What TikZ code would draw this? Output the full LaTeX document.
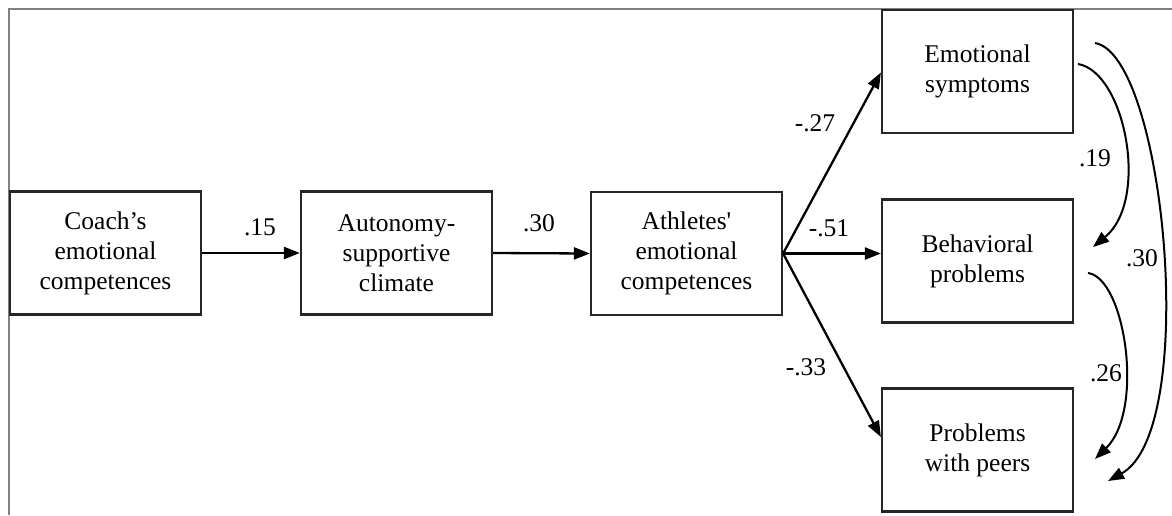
\documentclass[tikz,border=0pt]{standalone}
\usepackage{fontspec}
\setmainfont{Liberation Serif}
\usetikzlibrary{arrows.meta,calc}
\begin{document}
\begin{tikzpicture}[x=1pt,y=-1pt,
  box/.style={draw=black!85,line width=2.2pt,minimum width=191pt,minimum height=123pt,align=center,inner sep=0pt,
    font=\fontsize{25.5}{30}\selectfont},
  lab/.style={font=\fontsize{25.5}{30}\selectfont,inner sep=0pt},
  arr/.style={line width=2.3pt,-{Triangle[length=16pt,width=12pt]}},
  carr/.style={line width=2pt,-{Triangle[length=16pt,width=12pt]}}]
\useasboundingbox (0,0) rectangle (1172,515);
\draw[black!50,line width=1.5pt] (9,515) -- (9,9) -- (1172,9);
\node[box] (coach) at (105.5,253) {Coach’s\\emotional\\competences};
\node[box] (auto) at (396.5,253) {Autonomy-\\supportive\\climate};
\node[box] (ath) at (686.5,253.5) {Athletes\textquotesingle\\emotional\\competences};
\node[box] (emo) at (977.5,71.5) {Emotional\\symptoms};
\node[box] (beh) at (977.5,261) {Behavioral\\problems};
\node[box] (peer) at (977.5,450) {Problems\\with peers};
\draw[arr] (coach.east) -- (auto.west);
\draw[arr] (auto.east) -- (ath.west);
\coordinate (athout) at (ath.east);
\coordinate (emoin) at ($(emo.west)+(0,1)$);
\coordinate (behin) at (beh.west |- ath.east);
\coordinate (peerin) at ($(peer.west)+(0,-13)$);
\draw[arr] (athout) -- (emoin);
\draw[arr] (athout) -- (behin);
\draw[arr] (athout) -- (peerin);
\node[lab] (l15) at (260,227) {.15};
\node[lab] (l30a) at (539,223) {.30};
\node[lab] (l27) at (815,123) {-.27};
\node[lab] (l51) at (829,228) {-.51};
\node[lab] (l33) at (806,367) {-.33};
% correlations
\coordinate (e1) at (1078,64);
\coordinate (b1) at (1093,247);
\draw[carr] (e1) .. controls (1125,72) and (1150,200) .. (b1);
\coordinate (e2) at (1095,43);
\coordinate (p2) at (1108,481);
\draw[carr] (e2) .. controls (1165,55) and (1200,430) .. (p2);
\coordinate (b3) at (1088,273);
\coordinate (p3) at (1095,459);
\draw[carr] (b3) .. controls (1125,278) and (1145,410) .. (p3);
\node[lab] (l19) at (1095,158) {.19};
\node[lab] (l30b) at (1142,258) {.30};
\node[lab] (l26) at (1106,373) {.26};
\end{tikzpicture}
\end{document}
